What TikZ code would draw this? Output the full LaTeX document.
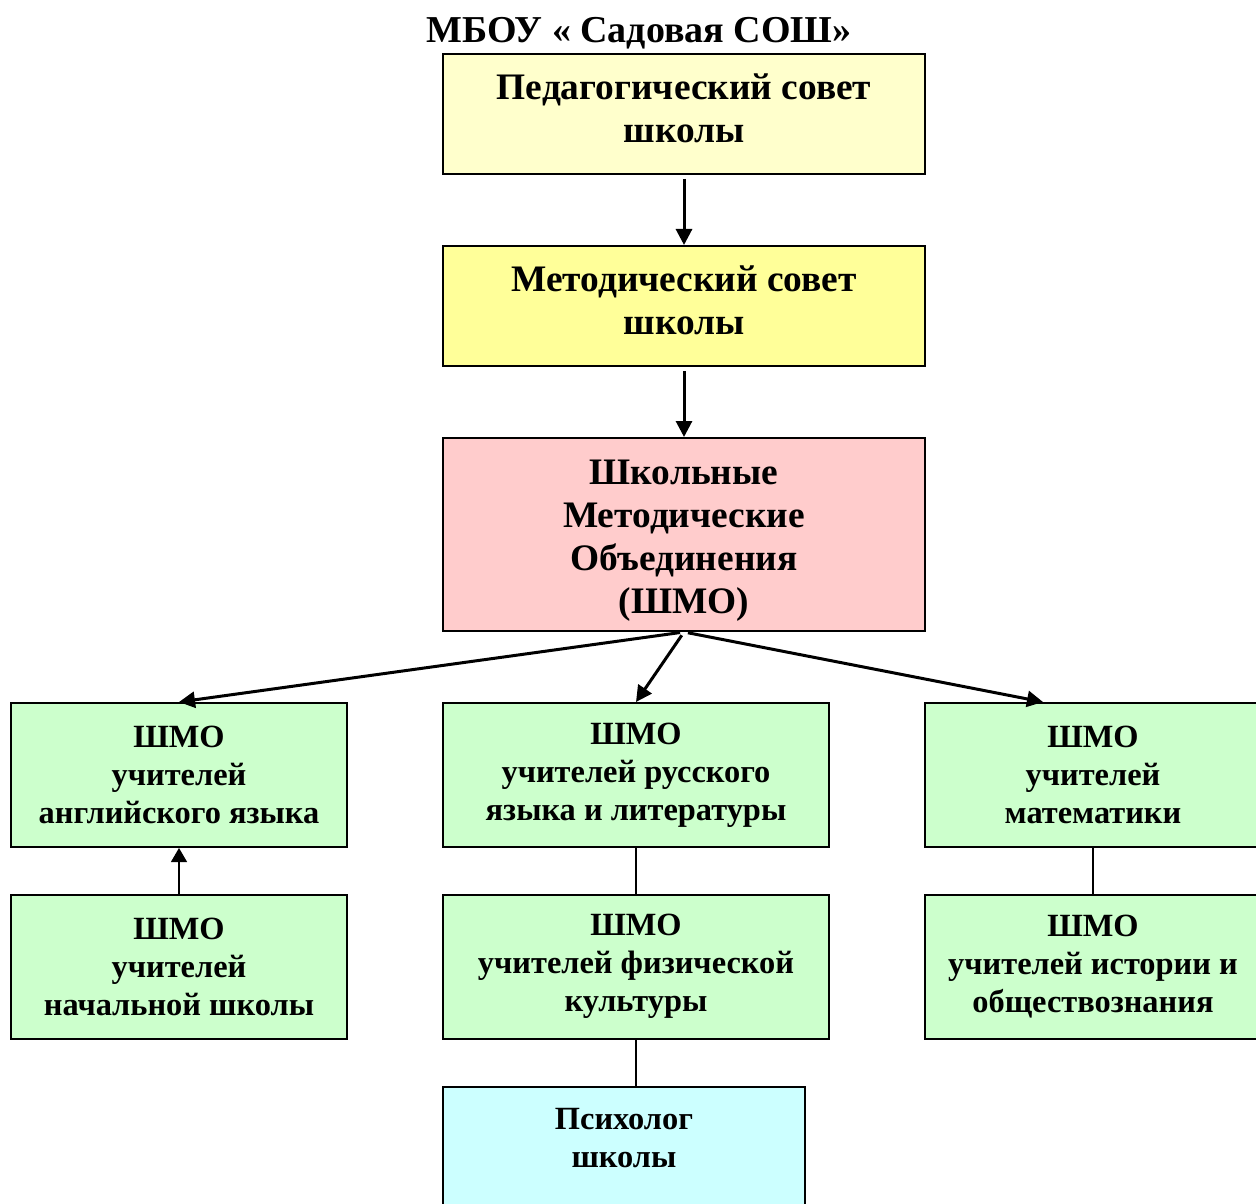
\documentclass[tikz,border=0pt]{standalone}
\usepackage{fontspec}
\setmainfont{Liberation Serif}
\usetikzlibrary{arrows.meta}
\definecolor{pedcol}{HTML}{FFFFCC}
\definecolor{metcol}{HTML}{FFFF99}
\definecolor{shmocol}{HTML}{FFCCCC}
\definecolor{grcol}{HTML}{CCFFCC}
\definecolor{psycol}{HTML}{CCFFFF}
\begin{document}
\begin{tikzpicture}
            [x=0.5pt,y=-0.5pt,
             Box/.style={rectangle,draw=black,line width=1pt,inner sep=0pt,align=center,font=\bfseries},
             Big/.style={Box,minimum width=241pt,font=\fontsize{18.7}{21.5}\selectfont\bfseries},
             Small/.style={Box,fill=grcol,minimum height=72pt,font=\fontsize{16.2}{19}\selectfont\bfseries},
             Arr/.style={line width=1.5pt,shorten <=2pt,-{Triangle[length=8pt,width=8pt]}}];
            \useasboundingbox (0,0) rectangle (1256,1203);

            \node[font=\fontsize{19}{22}\selectfont\bfseries] (title) at (639,33) {МБОУ « Садовая СОШ»};

            \node[Big,fill=pedcol,minimum height=60pt,text height=29pt] (ped) at (684,114) {Педагогический совет\\школы};
            \node[Big,fill=metcol,minimum height=60pt,text height=29pt] (met) at (684,306) {Методический совет\\школы};
            \node[Big,fill=shmocol,minimum height=96.5pt,text height=82.5pt] (shmo) at (684,534.5) {Школьные\\Методические\\Объединения\\(ШМО)};

            \node[Small,minimum width=168pt] (eng) at (179,775) {ШМО\\учителей\\английского языка};
            \node[Small,minimum width=193pt] (rus) at (636,775) {ШМО\\учителей русского\\языка и литературы};
            \node[Small,minimum width=168pt] (mat) at (1093,775) {ШМО\\учителей\\математики};

            \node[Small,minimum width=168pt] (nach) at (179,966.5) {ШМО\\учителей\\начальной школы};
            \node[Small,minimum width=193pt] (fiz) at (636,966.5) {ШМО\\учителей физической\\культуры};
            \node[Small,minimum width=168pt] (ist) at (1093,966.5) {ШМО\\учителей истории и\\обществознания};

            \node[Box,fill=psycol,anchor=north,minimum width=181pt,minimum height=70pt,text depth=19pt,
                  font=\fontsize{16.2}{19}\selectfont\bfseries] (psy) at (624,1086) {Психолог\\школы};

            \draw[Arr] (ped.south) -- (met.north);
            \draw[Arr] (met.south) -- (shmo.north);
            \draw[Arr] (shmo.south) -- (eng.north);
            \draw[Arr] (shmo.south) -- (rus.north);
            \draw[Arr] (shmo.south) -- ([xshift=-25pt]mat.north);

            \draw[line width=0.6pt,-{Triangle[length=7pt,width=8pt]}] (nach.north) -- (eng.south);
            \draw[line width=0.6pt] (rus.south) -- (fiz.north);
            \draw[line width=0.6pt] (mat.south) -- (ist.north);
            \draw[line width=0.6pt] (fiz.south) -- (fiz.south |- psy.north);
        \end{tikzpicture}
\end{document}
